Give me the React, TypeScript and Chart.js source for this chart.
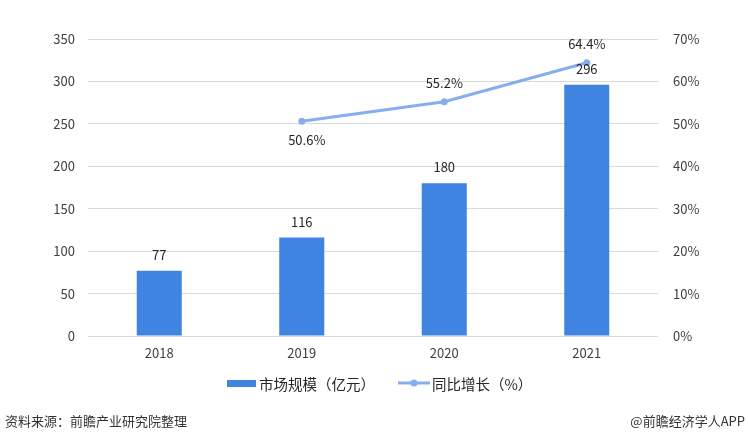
import React, { useEffect, useRef } from "react";
import { Chart, registerables } from "chart.js";

Chart.register(...registerables);

const years = ["2018", "2019", "2020", "2021"];
const marketSize = [77, 116, 180, 296];
const growthRate = [null, 50.6, 55.2, 64.4];
const leftTicks = [0, 50, 100, 150, 200, 250, 300, 350];
const rightTicks = [0, 10, 20, 30, 40, 50, 60, 70];
const barName = "市场规模（亿元）";
const lineName = "同比增长（%）";
const sourceText = "资料来源：前瞻产业研究院整理";
const creditText = "@前瞻经济学人APP";

const FONT = '"Noto Sans CJK SC", "Noto Sans", sans-serif';
const BAR_COLOR = "#3F84E0";
const LINE_COLOR = "#86AEEE";

const labelsPlugin = {
  id: "customLabels",
  afterDatasetsDraw(chart: any) {
    const ctx = chart.ctx;
    ctx.save();
    ctx.fillStyle = "#262626";
    ctx.font = `13px ${FONT}`;
    ctx.textAlign = "center";
    ctx.textBaseline = "middle";
    const barMeta = chart.getDatasetMeta(0);
    barMeta.data.forEach((el: any, i: number) => {
      ctx.fillText(String(marketSize[i]), el.x, el.y - 16);
    });
    const lineMeta = chart.getDatasetMeta(1);
    lineMeta.data.forEach((el: any, i: number) => {
      const v = growthRate[i];
      if (v == null) return;
      const below = i === 1;
      const off = below ? 19 : -19;
      ctx.fillText(v.toFixed(1) + "%", el.x + (below ? 5 : 0), el.y + off);
    });
    // legend
    const ly = 383;
    ctx.fillStyle = BAR_COLOR;
    ctx.fillRect(227, ly - 3, 29, 7);
    ctx.fillStyle = "#262626";
    ctx.font = `14.5px ${FONT}`;
    ctx.textAlign = "left";
    ctx.fillText(barName, 259, ly + 1);
    ctx.strokeStyle = LINE_COLOR;
    ctx.lineWidth = 3;
    ctx.beginPath();
    ctx.moveTo(398, ly);
    ctx.lineTo(430, ly);
    ctx.stroke();
    ctx.fillStyle = LINE_COLOR;
    ctx.beginPath();
    ctx.arc(414, ly, 3.5, 0, Math.PI * 2);
    ctx.fill();
    ctx.fillStyle = "#262626";
    ctx.fillText(lineName, 432, ly + 1);
    // source
    ctx.fillStyle = "#333333";
    ctx.font = `13px ${FONT}`;
    ctx.fillText(sourceText, 5, 421);
    ctx.textAlign = "right";
    ctx.fillText(creditText, 745, 421);
    ctx.restore();
  },
};

export default function App() {
  const ref = useRef<HTMLCanvasElement>(null);
  useEffect(() => {
    document.body.style.margin = "0";
    const chart = new Chart(ref.current!, {
      type: "bar",
      data: {
        labels: years,
        datasets: [
          {
            type: "bar",
            label: barName,
            data: marketSize,
            backgroundColor: BAR_COLOR,
            yAxisID: "y",
            categoryPercentage: 1,
            barPercentage: 0.316,
            order: 2,
          },
          {
            type: "line",
            label: lineName,
            data: growthRate as any,
            borderColor: LINE_COLOR,
            backgroundColor: LINE_COLOR,
            borderWidth: 3,
            pointRadius: 3.5,
            pointBackgroundColor: LINE_COLOR,
            pointBorderWidth: 0,
            yAxisID: "y1",
            spanGaps: false,
            order: 1,
          },
        ],
      },
      options: {
        animation: false,
        responsive: false,
        layout: { padding: { top: 39, left: 0, right: 0, bottom: 0 } },
        plugins: { legend: { display: false }, tooltip: { enabled: false } },
        scales: {
          x: {
            grid: { display: false, drawTicks: false },
            border: { display: false },
            ticks: { color: "#404040", font: { family: FONT, size: 13 }, padding: 9 },
            afterFit: (s: any) => { s.height = 105; },
          },
          y: {
            position: "left",
            min: 0,
            max: 350,
            afterBuildTicks: (s: any) => { s.ticks = leftTicks.map((v) => ({ value: v })); },
            grid: { color: "#D9D9D9", drawTicks: false, lineWidth: 1 },
            border: { display: false },
            ticks: { color: "#404040", font: { family: FONT, size: 13 }, padding: 13 },
            afterFit: (s: any) => { s.width = 88; },
          },
          y1: {
            position: "right",
            min: 0,
            max: 70,
            afterBuildTicks: (s: any) => { s.ticks = rightTicks.map((v) => ({ value: v })); },
            grid: { display: false, drawTicks: false },
            border: { display: false },
            ticks: {
              color: "#404040",
              font: { family: FONT, size: 13 },
              padding: 15,
              callback: (v: any) => v + "%",
            },
            afterFit: (s: any) => { s.width = 90; },
          },
        },
      },
      plugins: [labelsPlugin],
    });
    return () => chart.destroy();
  }, []);
  return (
    <div style={{ width: 748, height: 441, background: "#fff" }}>
      <canvas ref={ref} width={748} height={441} />
    </div>
  );
}
